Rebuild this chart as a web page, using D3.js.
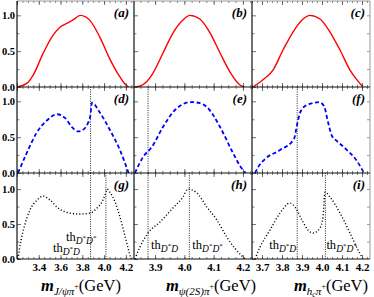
<!DOCTYPE html>
<html lang="en">
<head>
<meta charset="UTF-8">
<script src="https://d3js.org/d3.v7.min.js"></script>
<style>
  body { margin: 0; background: #fff; }
  text { font-family: "Liberation Serif", "Times New Roman", serif; }
</style>
</head>
<body>
<script>
var width = 374, height = 297;

// threshold masses (GeV)
var thDstarD = 3.876, thDstarDstar = 4.017;

// tick labels
var ticksJpsi = [3.4, 3.6, 3.8, 4.0, 4.2];
var ticksPsi2S = [3.9, 4.0, 4.1, 4.2];
var ticksHc = [3.7, 3.8, 3.9, 4.0, 4.1, 4.2];
var yTickLabels = [0.0, 0.5, 1.0];
var panelNames = ["(a)", "(b)", "(c)", "(d)", "(e)", "(f)", "(g)", "(h)", "(i)"];

// row 1, solid red
var xa = [3.2, 3.29, 3.35, 3.44, 3.53, 3.6, 3.66, 3.72, 3.78, 3.83, 3.87, 3.96, 4.05, 4.15, 4.2, 4.225];
var ya = [0, 0.05, 0.17, 0.47, 0.72, 0.84, 0.89, 0.94, 1.0, 0.98, 0.93, 0.70, 0.40, 0.13, 0.03, 0];
var xb = [3.83, 3.85, 3.87, 3.893, 3.927, 3.961, 3.995, 4.019, 4.053, 4.088, 4.122, 4.156, 4.19, 4.205];
var yb = [0, 0.015, 0.07, 0.195, 0.474, 0.753, 0.934, 1.0, 0.948, 0.753, 0.474, 0.209, 0.028, 0];
var xc = [3.655, 3.705, 3.755, 3.805, 3.855, 3.905, 3.94, 3.99, 4.04, 4.09, 4.14, 4.175, 4.205];
var yc = [0, 0.1, 0.237, 0.516, 0.767, 0.948, 1.0, 0.948, 0.767, 0.516, 0.237, 0.1, 0];

// row 2, dashed blue
var xd = [3.209, 3.29, 3.38, 3.48, 3.568, 3.64, 3.705, 3.76, 3.82, 3.85, 3.874, 3.889, 3.963, 4.054, 4.146, 4.225];
var yd = [0, 0.28, 0.56, 0.74, 0.82, 0.77, 0.64, 0.58, 0.62, 0.69, 0.80, 0.98, 0.84, 0.60, 0.32, 0];
var xe = [3.831, 3.859, 3.889, 3.927, 3.968, 3.995, 4.019, 4.053, 4.077, 4.122, 4.166, 4.2, 4.21];
var ye = [0, 0.223, 0.363, 0.642, 0.879, 0.96, 0.99, 0.976, 0.92, 0.642, 0.279, 0.042, 0];
var xf = [3.665, 3.68, 3.715, 3.79, 3.86, 3.875, 3.89, 3.915, 3.955, 3.985, 4.01, 4.03, 4.05, 4.075, 4.125, 4.175, 4.21];
var yf = [0, 0.08, 0.195, 0.32, 0.474, 0.67, 0.837, 0.934, 0.976, 0.99, 0.934, 0.711, 0.516, 0.446, 0.32, 0.167, 0];

// row 3, dotted black
var xg = [3.209, 3.237, 3.258, 3.319, 3.384, 3.439, 3.503, 3.577, 3.687, 3.779, 3.871, 3.935, 3.99, 4.018, 4.027, 4.055, 4.1, 4.146, 4.192, 4.23, 4.247];
var yg = [0, 0.27, 0.41, 0.70, 0.843, 0.90, 0.843, 0.729, 0.657, 0.643, 0.657, 0.729, 0.843, 0.957, 1.0, 0.95, 0.82, 0.60, 0.33, 0.10, 0];
var xh = [3.831, 3.848, 3.876, 3.917, 3.961, 3.995, 4.012, 4.043, 4.077, 4.111, 4.145, 4.173, 4.195, 4.208];
var yh = [0, 0.17, 0.37, 0.53, 0.73, 0.886, 1.0, 0.943, 0.743, 0.557, 0.314, 0.15, 0.05, 0];
var xi = [3.665, 3.69, 3.74, 3.79, 3.84, 3.865, 3.9, 3.93, 3.955, 3.99, 4.005, 4.015, 4.04, 4.09, 4.14, 4.18, 4.205];
var yi = [0, 0.17, 0.414, 0.657, 0.80, 0.743, 0.557, 0.414, 0.371, 0.443, 0.60, 0.957, 0.886, 0.657, 0.371, 0.129, 0];

var curves = [[[xa, ya], [xb, yb], [xc, yc]],
              [[xd, yd], [xe, ye], [xf, yf]],
              [[xg, yg], [xh, yh], [xi, yi]]];
var thresholdsByRow = [[], [thDstarD], [thDstarD, thDstarDstar]];

// layout
var cols = [
  {x0: 17, x1: 134, dom: [3.2, 4.275], ticks: ticksJpsi, minor: 0.05},
  {x0: 134, x1: 252, dom: [3.828, 4.231], ticks: ticksPsi2S, minor: 0.025},
  {x0: 252, x1: 370, dom: [3.65, 4.24], ticks: ticksHc, minor: 0.025}
];
var rows = [
  {y0: 1, y1: 87, top: 1.2, color: "#ff0000", sw: 1.4, dash: null},
  {y0: 87, y1: 173, top: 1.2, color: "#0000ff", sw: 1.8, dash: "4,2.6"},
  {y0: 173, y1: 259, top: 1.23, color: "#000", sw: 1.4, dash: "1.1,2.1"}
];

var svg = d3.select("body").append("svg")
    .attr("width", width).attr("height", height);

function rng(a, b, step) {
  var out = [];
  for (var v = Math.ceil(a / step - 1e-9) * step; v <= b + 1e-9; v += step) out.push(+v.toFixed(4));
  return out;
}

function thLabel(g, x, y, anchor, starred) {
  var t = g.append("text").attr("x", x).attr("y", y).attr("text-anchor", anchor)
      .attr("font-size", 12.5);
  t.append("tspan").text("th");
  t.append("tspan").attr("font-size", 9.5).attr("dy", 2.5).attr("font-style", "italic").text("D");
  t.append("tspan").attr("font-size", 7).attr("dy", -3.5).text("*");
  t.append("tspan").attr("font-size", 9.5).attr("dy", 3.5).attr("font-style", "italic").text("D");
  if (starred) t.append("tspan").attr("font-size", 7).attr("dy", -3.5).text("*");
}

rows.forEach(function (row, r) {
  cols.forEach(function (col, c) {
    var x = d3.scaleLinear().domain(col.dom).range([col.x0, col.x1]);
    var y = d3.scaleLinear().domain([0, row.top]).range([row.y1, row.y0]);
    var id = "clip" + r + c;
    svg.append("clipPath").attr("id", id).append("rect")
        .attr("x", col.x0).attr("y", row.y0).attr("width", col.x1 - col.x0).attr("height", row.y1 - row.y0);

    var g = svg.append("g");

    // threshold lines
    thresholdsByRow[r].forEach(function (t) {
      g.append("line")
          .attr("x1", x(t)).attr("x2", x(t))
          .attr("y1", row.y0).attr("y2", row.y1)
          .attr("stroke", "#222").attr("stroke-width", 1)
          .attr("stroke-dasharray", "1,1.3");
    });

    // curve
    var xs = curves[r][c][0], ys = curves[r][c][1];
    var pts = xs.map(function (v, i) { return [v, ys[i]]; });
    var line = d3.line()
        .x(function (d) { return x(d[0]); })
        .y(function (d) { return y(d[1]); })
        .curve(d3.curveMonotoneX);
    g.append("path").datum(pts)
        .attr("clip-path", "url(#" + id + ")")
        .attr("d", line)
        .attr("fill", "none")
        .attr("stroke", row.color)
        .attr("stroke-width", row.sw)
        .attr("stroke-dasharray", row.dash);

    // x ticks (bottom up, top down)
    var majors = rng(col.dom[0], col.dom[1], col.ticks[1] - col.ticks[0]);
    var minors = rng(col.dom[0], col.dom[1], col.minor);
    [[row.y1, -1], [row.y0, 1]].forEach(function (p) {
      var ax = (p[1] < 0 ? d3.axisBottom(x) : d3.axisTop(x));
      g.append("g").attr("transform", "translate(0," + p[0] + ")")
          .call(ax.tickValues(minors).tickSize(-2).tickFormat(""))
          .call(function (s) { s.select(".domain").remove(); s.selectAll("line").attr("stroke", "#333").attr("stroke-width", 0.6); });
      g.append("g").attr("transform", "translate(0," + p[0] + ")")
          .call(ax.tickValues(majors).tickSize(-4).tickFormat(""))
          .call(function (s) { s.select(".domain").remove(); s.selectAll("line").attr("stroke", "#333").attr("stroke-width", 0.7); });
    });

    // y ticks on the left axis
    var yl = d3.axisLeft(y).tickValues(yTickLabels).tickSize(-4).tickPadding(2)
        .tickFormat(c === 0 ? d3.format(".1f") : "");
    g.append("g").attr("transform", "translate(" + col.x0 + ",0)")
        .call(yl)
        .call(function (s) {
          s.select(".domain").remove();
          s.selectAll("line").attr("stroke", "#333").attr("stroke-width", 0.7);
          s.selectAll("text").attr("font-weight", "bold")
              .attr("font-size", 10.5).attr("fill", "#000");
        });
    g.append("g").attr("transform", "translate(" + col.x0 + ",0)")
        .call(d3.axisLeft(y).tickValues([0.25, 0.75]).tickSize(-2.5).tickFormat(""))
        .call(function (s) { s.select(".domain").remove(); s.selectAll("line").attr("stroke", "#333").attr("stroke-width", 0.6); });
    if (c === 2) {
      g.append("g").attr("transform", "translate(" + col.x1 + ",0)")
          .call(d3.axisRight(y).tickValues([0.25, 0.5, 0.75, 1.0]).tickSize(-3).tickFormat(""))
          .call(function (s) { s.select(".domain").remove(); s.selectAll("line").attr("stroke", "#555").attr("stroke-width", 0.6); });
    }

    // x tick labels on last row
    if (r === 2) {
      g.append("g").attr("transform", "translate(0," + row.y1 + ")")
          .call(d3.axisBottom(x).tickValues(col.ticks).tickSize(0).tickPadding(4).tickFormat(d3.format(".1f")))
          .call(function (s) {
            s.select(".domain").remove();
            s.selectAll("text").attr("font-weight", "bold")
                .attr("font-size", 11).attr("fill", "#000");
          });
    }

    // panel label
    g.append("text")
        .attr("x", col.x1 - 5).attr("y", row.y0 + 15.5)
        .attr("text-anchor", "end")
        .attr("font-style", "italic").attr("font-weight", "bold")
        .attr("font-size", 13)
        .text(panelNames[r * 3 + c]);

    // threshold labels
    if (r === 2) {
      if (c === 0) {
        thLabel(g, x(3.65), 241, "start", true);
        thLabel(g, x(3.53), 252, "start", false);
      } else if (c === 1) {
        thLabel(g, x(thDstarD) + 3, 249, "start", false);
        thLabel(g, x(thDstarDstar) + 3, 249, "start", true);
      } else {
        thLabel(g, x(thDstarD) - 1, 249, "end", false);
        thLabel(g, x(thDstarDstar) + 1, 249, "start", true);
      }
    }
  });
});

// frame lines
svg.append("line").attr("x1", 17).attr("x2", 370).attr("y1", 1).attr("y2", 1)
    .attr("stroke", "#999").attr("stroke-width", 1);
svg.append("line").attr("x1", 370).attr("x2", 370).attr("y1", 1).attr("y2", 259)
    .attr("stroke", "#999").attr("stroke-width", 1);
rows.forEach(function (row) {
  svg.append("line").attr("x1", 17).attr("x2", 370).attr("y1", row.y1).attr("y2", row.y1)
      .attr("stroke", "#111").attr("stroke-width", 1.2);
});
cols.forEach(function (col) {
  svg.append("line").attr("x1", col.x0).attr("x2", col.x0).attr("y1", 1).attr("y2", 259)
      .attr("stroke", "#111").attr("stroke-width", 1.2);
});

// axis titles
var titles = [
  {cx: 81, sub: "J/\u03C8\u03C0"},
  {cx: 211, sub: "\u03C8(2S)\u03C0"},
  {cx: 331, sub: null}
];
titles.forEach(function (tt) {
  var t = svg.append("text").attr("x", tt.cx).attr("y", 291).attr("text-anchor", "middle")
      .attr("font-size", 16.5);
  t.append("tspan").attr("font-style", "italic").attr("font-weight", "bold").text("m");
  if (tt.sub) {
    t.append("tspan").attr("font-size", 11).attr("dy", 3.5).attr("font-style", "italic").text(tt.sub);
  } else {
    t.append("tspan").attr("font-size", 11).attr("dy", 3.5).attr("font-style", "italic").text("h");
    t.append("tspan").attr("font-size", 8).attr("dy", 2).attr("font-style", "italic").text("c");
    t.append("tspan").attr("font-size", 11).attr("dy", -2).attr("font-style", "italic").text("\u03C0");
  }
  t.append("tspan").attr("font-size", 8).attr("dy", -5.5).text("+");
  t.append("tspan").attr("font-size", 16.5).attr("dy", 2).text("(GeV)");
});
</script>
</body>
</html>
